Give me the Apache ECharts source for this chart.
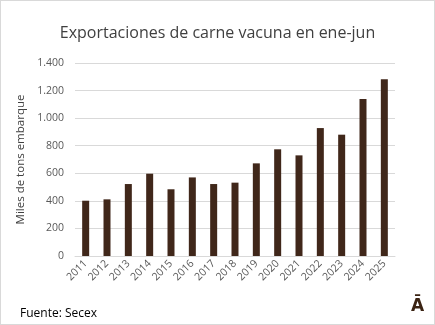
<!DOCTYPE html>
<html><head><meta charset="utf-8">
<script src="https://cdn.jsdelivr.net/npm/echarts@6/dist/echarts.min.js"></script>
<style>
html,body{margin:0;padding:0;background:#fff;}
#frame{position:absolute;left:0;top:0;width:433px;height:323px;border:1px solid #d9d9d9;}
#c{position:absolute;left:0;top:0;width:435px;height:325px;}
</style></head>
<body>
<div id="frame"></div>
<div id="c"></div>
<script>
const categories = ['2011','2012','2013','2014','2015','2016','2017','2018','2019','2020','2021','2022','2023','2024','2025'];
const values = [401, 411, 522, 597, 484, 570, 522, 532, 672, 774, 730, 928, 880, 1138, 1283];
const titleText = 'Exportaciones de carne vacuna en ene-jun';
const yName = 'Miles de tons embarque';
const sourceText = 'Fuente: Secex';

const chart = echarts.init(document.getElementById('c'), null, {renderer:'canvas'});
const font = '"Open Sans", "Liberation Sans", sans-serif';
chart.setOption({
  animation:false,
  textStyle:{fontFamily:font},
  title:{text:titleText,left:'center',top:20,textStyle:{fontFamily:font,fontSize:16,fontWeight:'normal',color:'#404040'}},
  graphic:[
    {type:'text',left:20,top:308,style:{text:sourceText,font:'12px '+font,fill:'#000'}},
    {type:'text',left:411,top:298,style:{text:'Ā',font:'bold 17px "DejaVu Sans", sans-serif',fill:'#3b2313'}}
  ],
  grid:{left:75,right:40,top:63,bottom:69},
  xAxis:{type:'category',data:categories,
    axisLine:{lineStyle:{color:'#d9d9d9'}},axisTick:{show:false},
    axisLabel:{rotate:45,fontSize:10.5,color:'#595959',margin:6,fontFamily:font}},
  yAxis:{type:'value',min:0,max:1400,interval:200,
    name:yName,nameLocation:'middle',nameGap:45,nameRotate:90,
    nameTextStyle:{fontSize:11.5,color:'#404040',fontFamily:font},
    axisLine:{show:false},axisTick:{show:false},
    splitLine:{lineStyle:{color:'#d9d9d9'}},
    axisLabel:{fontSize:10.5,color:'#595959',margin:11,fontFamily:font,
      formatter:v=>v>=1000?Math.floor(v/1000)+'.'+String(v%1000).padStart(3,'0'):String(v)}},
  series:[{type:'bar',data:values,barWidth:7,itemStyle:{color:'#40271a'}}]
});
</script>
</body></html>
